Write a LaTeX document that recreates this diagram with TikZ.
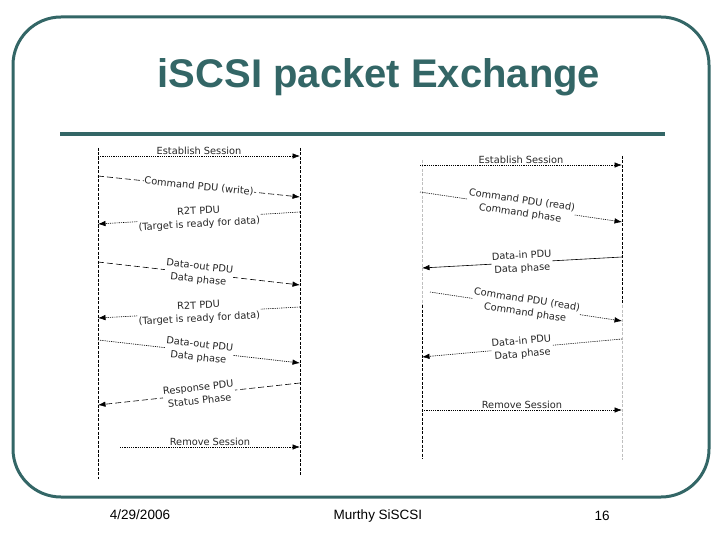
\documentclass[tikz,border=0pt]{standalone}
\usepackage{fontspec}
\setmainfont{Liberation Sans}
\newfontfamily\dvs{DejaVu Sans}
\usetikzlibrary{arrows.meta}
\definecolor{slidecol}{RGB}{51,102,102}
\begin{document}
\begin{tikzpicture}[x=1pt,y=-1pt,
  life/.style={draw=black, line width=0.6pt, dash pattern=on 3pt off 1.5pt},
  faintlife/.style={draw=black!25, line width=0.6pt, dash pattern=on 3pt off 1.5pt},
  msg/.style={draw=black, line width=0.6pt, -{Latex[length=7.5pt,width=5.5pt]}},
  dsh/.style={dash pattern=on 6pt off 3pt},
  dts/.style={dash pattern=on 1.2pt off 1pt},
  lbl/.style={font=\dvs\fontsize{9.8}{13}\selectfont, fill=white, inner sep=0.6pt, align=center, text=black!85},
  toplbl/.style={font=\dvs\fontsize{9.8}{11}\selectfont, inner sep=1pt, text=black!85},
  foot/.style={font=\fontsize{13.5}{15}\selectfont, text=black}
]
\useasboundingbox (0,0) rectangle (720,540);
\draw[slidecol, line width=3pt, rounded corners=48pt] (13,17) rectangle (709,497);
\node[font=\bfseries\fontsize{40}{44}\selectfont, text=slidecol] (title) at (379,77) {iSCSI packet Exchange};
\draw[slidecol, line width=4pt] (60,134) -- (665,134);

% ---------- left diagram lifelines ----------
\coordinate (LAt) at (98,148);  \coordinate (LAb) at (98,479);
\coordinate (LBt) at (300,148); \coordinate (LBb) at (300,476);
\draw[life] (LAt) -- (LAb);
\draw[life] (LBt) -- (LBb);

% ---------- left messages ----------
\coordinate (l1a) at (98,156);  \coordinate (l1b) at (300,156);
\draw[msg,dts] (l1a) -- node[toplbl, above] (l1t) {Establish Session} (l1b);

\coordinate (l2a) at (98,176);  \coordinate (l2b) at (300,197);
\draw[msg,dsh] (l2a) -- node[lbl, sloped] (l2t) {Command PDU (write)} (l2b);

\coordinate (l3a) at (300,212); \coordinate (l3b) at (98,224);
\draw[msg,dts] (l3a) -- node[lbl, sloped] (l3t) {R2T PDU\\(Target is ready for data)} (l3b);

\coordinate (l4a) at (98,262);  \coordinate (l4b) at (300,285);
\draw[msg,dsh] (l4a) -- node[lbl, sloped] (l4t) {Data-out PDU\\Data phase} (l4b);

\coordinate (l5a) at (300,307); \coordinate (l5b) at (98,318);
\draw[msg,dts] (l5a) -- node[lbl, sloped] (l5t) {R2T PDU\\(Target is ready for data)} (l5b);

\coordinate (l6a) at (98,340);  \coordinate (l6b) at (300,363);
\draw[msg,dts] (l6a) -- node[lbl, sloped] (l6t) {Data-out PDU\\Data phase} (l6b);

\coordinate (l7a) at (300,383); \coordinate (l7b) at (98,405);
\draw[msg,dsh] (l7a) -- node[lbl, sloped] (l7t) {Response PDU\\Status Phase} (l7b);

\coordinate (l8a) at (120,447); \coordinate (l8b) at (300,447);
\draw[msg,dts] (l8a) -- node[toplbl, above] (l8t) {Remove Session} (l8b);

% ---------- right diagram lifelines ----------
\coordinate (RAt) at (422,160); \coordinate (RAm) at (422,305); \coordinate (RAb) at (422,459);
\coordinate (RBt) at (622,156); \coordinate (RBm) at (622,305); \coordinate (RBb) at (622,460);
\draw[faintlife] (RAt) -- (RAm);
\draw[life] (RAm) -- (RAb);
\draw[life] (RBt) -- (RBm);
\draw[faintlife] (RBm) -- (RBb);

% ---------- right messages ----------
\coordinate (r1a) at (420,165); \coordinate (r1b) at (622,165);
\draw[msg,dts] (r1a) -- node[toplbl, above, pos=0.5] (r1t) {Establish Session} (r1b);

\coordinate (r2a) at (420,192); \coordinate (r2b) at (622,222);
\draw[msg,dts] (r2a) -- node[lbl, sloped] (r2t) {Command PDU (read)\\Command phase} (r2b);

\coordinate (r3a) at (622,257); \coordinate (r3b) at (422,268);
\draw[msg] (r3a) -- node[lbl, sloped] (r3t) {Data-in PDU\\Data phase} (r3b);

\coordinate (r4a) at (430,292); \coordinate (r4b) at (622,321);
\draw[msg,dts] (r4a) -- node[lbl, sloped] (r4t) {Command PDU (read)\\Command phase} (r4b);

\coordinate (r5a) at (622,339); \coordinate (r5b) at (422,357);
\draw[msg,dts] (r5a) -- node[lbl, sloped] (r5t) {Data-in PDU\\Data phase} (r5b);

\coordinate (r6a) at (422,410); \coordinate (r6b) at (622,410);
\draw[msg,dts] (r6a) -- node[toplbl, above] (r6t) {Remove Session} (r6b);

% ---------- footer ----------
\node[foot] (date) at (140,515) {4/29/2006};
\node[foot] (auth) at (378,516) {Murthy SiSCSI};
\node[foot] (page) at (602,516) {16};
\end{tikzpicture}
\end{document}
